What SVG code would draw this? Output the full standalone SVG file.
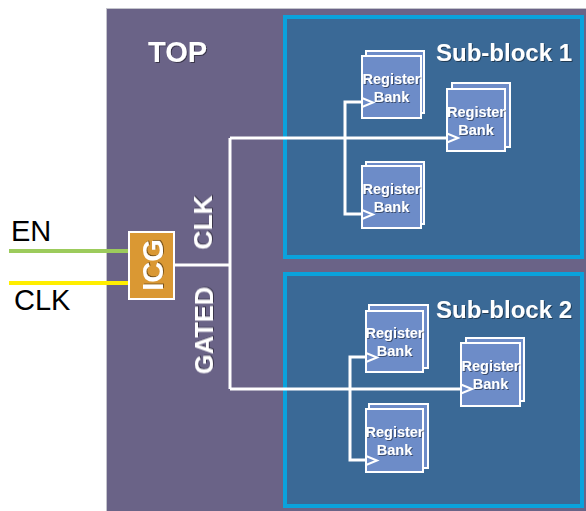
<svg xmlns="http://www.w3.org/2000/svg" width="586" height="511" viewBox="0 0 586 511">
<defs>
<filter id="sh" x="-20%" y="-20%" width="140%" height="140%">
<feDropShadow dx="1" dy="1" stdDeviation="0.6" flood-color="#000" flood-opacity="0.45"/>
</filter>
</defs>
<style>
.top{fill:#6a6387;stroke:#c4c4cc;stroke-width:1}
.sub{fill:#3a6996;stroke:#0aa2dc;stroke-width:4}
.rb{fill:#6d8cc8;stroke:#fff;stroke-width:2}
.rt{font-family:"Liberation Sans",Arial,sans-serif;font-weight:bold;font-size:14.5px;fill:#fff;text-anchor:middle;filter:url(#sh)}
.big{font-family:"Liberation Sans",Arial,sans-serif;font-weight:bold;fill:#fff;filter:url(#sh)}
.lab{font-family:"Liberation Sans",Arial,sans-serif;font-size:29px;fill:#000}
.w{fill:none;stroke:#fff;stroke-width:3}
.ck{fill:none;stroke:#fff;stroke-width:2}
</style>

<g id="top-block">
<rect class="top" x="106.5" y="8.5" width="481" height="504"/>
<text class="big" x="148" y="62" font-size="29">TOP</text>
</g>

<g id="sub-block-1">
<rect class="sub" x="285" y="17" width="297" height="240"/>
<text class="big" x="436" y="61" font-size="24">Sub-block 1</text>
</g>

<g id="sub-block-2">
<rect class="sub" x="285" y="274" width="297" height="232"/>
<text class="big" x="436" y="318" font-size="24">Sub-block 2</text>
</g>

<g id="inputs">
<line x1="9" y1="251" x2="129" y2="251" stroke="#9ccb5c" stroke-width="4"/>
<line x1="9" y1="283" x2="129" y2="283" stroke="#ffee00" stroke-width="4"/>
<text class="lab" x="11" y="241">EN</text>
<text class="lab" x="14" y="310">CLK</text>
</g>

<g id="gated-clk-label">
<text class="big" font-size="26.5" text-anchor="middle" transform="translate(212,222.5) rotate(-90)">CLK</text>
<text class="big" font-size="25.5" text-anchor="middle" transform="translate(213,330.5) rotate(-90)">GATED</text>
</g>

<g id="icg">
<rect x="129" y="232" width="45" height="67" fill="#da9833" stroke="#fff" stroke-width="2"/>
<text class="big" font-size="29" text-anchor="middle" transform="translate(163,265) rotate(-90)">ICG</text>
</g>

<g id="rb-1a">
<rect class="rb" x="366" y="51" width="58" height="62"/>
<rect class="rb" x="362" y="56" width="59" height="62"/>
<text class="rt" x="391.5" y="84">Register</text>
<text class="rt" x="391.5" y="102">Bank</text>
</g>
<g id="rb-1b">
<rect class="rb" x="452" y="83" width="58" height="64"/>
<rect class="rb" x="447" y="89" width="58" height="62"/>
<text class="rt" x="476" y="117">Register</text>
<text class="rt" x="476" y="135">Bank</text>
</g>
<g id="rb-1c">
<rect class="rb" x="366" y="162" width="58" height="62"/>
<rect class="rb" x="362" y="166" width="59" height="62"/>
<text class="rt" x="391.5" y="194">Register</text>
<text class="rt" x="391.5" y="212">Bank</text>
</g>

<g id="rb-2a">
<rect class="rb" x="369" y="305" width="59" height="63"/>
<rect class="rb" x="366" y="311" width="57" height="61"/>
<text class="rt" x="394.5" y="338">Register</text>
<text class="rt" x="394.5" y="356">Bank</text>
</g>
<g id="rb-2b">
<rect class="rb" x="466" y="338" width="58" height="63"/>
<rect class="rb" x="461" y="343" width="59" height="63"/>
<text class="rt" x="490.5" y="371">Register</text>
<text class="rt" x="490.5" y="389">Bank</text>
</g>
<g id="rb-2c">
<rect class="rb" x="369" y="404" width="59" height="64"/>
<rect class="rb" x="366" y="409" width="57" height="63"/>
<text class="rt" x="394.5" y="437">Register</text>
<text class="rt" x="394.5" y="455">Bank</text>
</g>

<g id="connectors">
<polyline class="w" points="175,265 230,265"/>
<polyline class="w" points="230,138 230,389"/>
<polyline class="w" points="230,138 447,138"/>
<polyline class="w" points="230,389 461,389"/>
<polyline class="w" points="362,102 345,102 345,214 362,214"/>
<polyline class="w" points="366,357 350,357 350,460 366,460"/>
<path class="ck" d="M362,98 L373,102.5 L362,107"/>
<path class="ck" d="M362,210 L373,214.5 L362,219"/>
<path class="ck" d="M447,133.5 L458,138 L447,142.5"/>
<path class="ck" d="M366,353 L377,357.5 L366,362"/>
<path class="ck" d="M366,456 L377,460.5 L366,465"/>
<path class="ck" d="M461,384.5 L472,389 L461,393.5"/>
</g>
</svg>
